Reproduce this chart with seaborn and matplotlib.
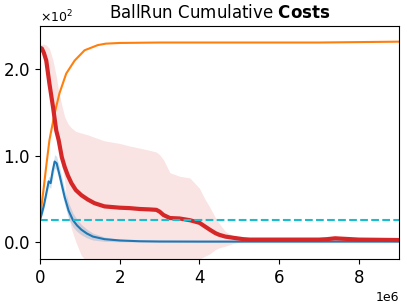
import numpy as np
import pandas as pd
import matplotlib
matplotlib.use("Agg")
import matplotlib.pyplot as plt
from matplotlib.ticker import ScalarFormatter, MultipleLocator
import seaborn as sns

# --- data (x in millions of steps, y in cost units) ---
red_x = [0, 0.05, 0.1, 0.16, 0.24, 0.33, 0.41, 0.47, 0.55, 0.62, 0.7, 0.79, 0.9, 1.04,
         1.2, 1.37, 1.62, 2.0, 2.25, 2.5, 2.75, 2.92, 3.0, 3.1, 3.26, 3.5, 3.76, 4.0,
         4.13, 4.26, 4.4, 4.5, 4.65, 4.85, 5.1, 5.26, 6, 7, 7.2, 7.4, 7.6, 8, 9]
red_mean = [225, 224, 219, 210, 183, 156, 129, 118, 98, 87, 77, 68, 60, 54,
            49, 44.7, 41, 39.5, 39, 38, 37.5, 37, 35, 31, 27.5, 27, 25, 22,
            18, 14, 10, 8, 6, 4.6, 3, 2.5, 2.5, 2.5, 3, 4, 3.5, 2.5, 2]
red_high = [228, 229, 229, 228, 224, 210, 192, 175, 158, 145, 137, 132, 128, 126,
            124, 121, 117, 114, 111, 108.6, 106, 104, 101, 95, 80, 76, 74, 62,
            50, 40, 28, 21, 12, 7, 5, 4.5, 4, 4, 5, 7, 5.5, 4, 3.5]
red_low = [222, 220, 214, 203, 174, 145, 118, 106, 88, 72, 33, 15, 0, -16,
           -24, -30, -34, -35, -33, -32.6, -31, -30, -31, -33, -25, -22, -24, -20,
           -17, -14, -9, -7, -5, -2, 0.3, 0.5, 1, 1, 1, 1.5, 1.5, 1, 0.5]

blue_x = [0, 0.05, 0.1, 0.16, 0.22, 0.27, 0.32, 0.37, 0.42, 0.5, 0.62, 0.72, 0.83, 0.93,
          1.04, 1.18, 1.33, 1.62, 2.0, 2.5, 3, 4, 5, 6, 7, 8, 9]
blue_mean = [25, 33, 42, 56, 70, 68, 82, 93, 91, 76, 52, 36, 25, 19,
             14, 9.5, 6, 3, 1.5, 0.6, 0.3, 0.2, 0.2, 0.2, 0.2, 0.2, 0.2]
blue_std = [2, 3, 4, 5, 6, 6, 7, 8, 8, 9, 9, 9, 8, 7,
            6, 5, 4, 2.5, 1.5, 0.8, 0.6, 0.5, 0.5, 0.5, 0.5, 0.5, 0.5]

orange_x = [0, 0.05, 0.1, 0.16, 0.24, 0.37, 0.49, 0.66, 0.87, 1.12, 1.45, 1.65,
            2.0, 3, 4, 5, 6, 7, 8, 9]
orange_y = [25, 45, 64, 88, 118, 149, 172, 195, 210, 222, 228, 229.7,
            230.5, 231, 231, 231, 231, 231, 231.5, 232]

threshold = 25
x_ticks = [0, 2e6, 4e6, 6e6, 8e6]

sns.set_style("ticks")
plt.rcParams['font.family'] = ['DejaVu Sans']
plt.rcParams['text.color'] = 'black'
plt.rcParams['axes.edgecolor'] = 'black'
plt.rcParams['xtick.color'] = 'black'
plt.rcParams['ytick.color'] = 'black'


class OneDecimal(ScalarFormatter):
    def _set_format(self):
        self.format = r'$\mathdefault{%1.1f}$'


fig = plt.figure(figsize=(4.07, 3.04), dpi=100)
ax = fig.add_axes([0.098, 0.148, 0.882, 0.766])

red = pd.DataFrame({"x": np.array(red_x) * 1e6, "m": red_mean, "lo": red_low, "hi": red_high})
blue = pd.DataFrame({"x": np.array(blue_x) * 1e6, "m": blue_mean, "s": blue_std})
orange = pd.DataFrame({"x": np.array(orange_x) * 1e6, "y": orange_y})

ax.fill_between(red["x"], red["lo"], red["hi"],
                color="#d62728", alpha=0.13, linewidth=0)
ax.fill_between(blue["x"], blue["m"] - blue["s"], blue["m"] + blue["s"],
                color="#1f77b4", alpha=0.2, linewidth=0)
sns.lineplot(data=orange, x="x", y="y", ax=ax, color="#ff7f0e", linewidth=1.5)
sns.lineplot(data=blue, x="x", y="m", ax=ax, color="#1f77b4", linewidth=1.5)
sns.lineplot(data=red, x="x", y="m", ax=ax, color="#d62728", linewidth=3)
ax.axhline(threshold, color="#17becf", linestyle="--", linewidth=1.5)

ax.set_xlim(0, 9e6)
ax.set_ylim(-20, 250)
ax.set_xticks(x_ticks)
ax.yaxis.set_major_locator(MultipleLocator(100))
fmt = OneDecimal(useMathText=True)
fmt.set_powerlimits((0, 0))
ax.yaxis.set_major_formatter(fmt)
ax.set_xlabel("")
ax.set_ylabel("")
ax.tick_params(labelsize=12, colors='black')
ax.yaxis.get_offset_text().set_fontsize(9)
ax.xaxis.get_offset_text().set_fontsize(9)
ax.set_title(r"BallRun Cumulative $\bf{Costs}$", fontsize=12, color='black')

fig.savefig("out.png", dpi=100)
